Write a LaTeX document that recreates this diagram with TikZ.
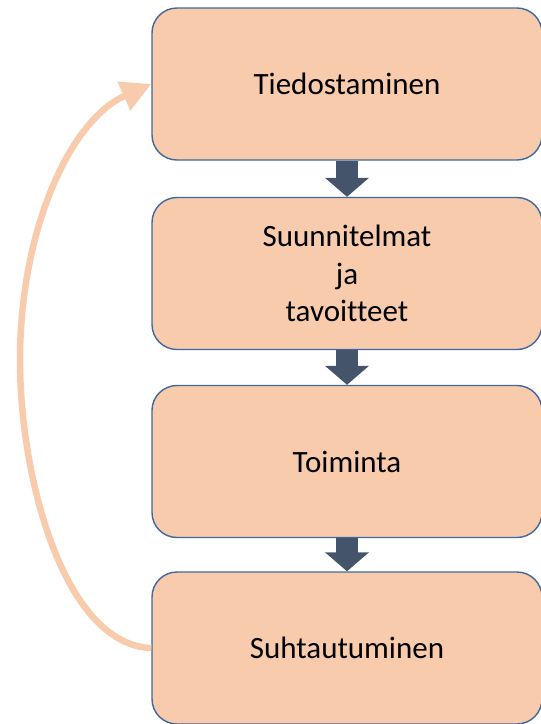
\documentclass[tikz,border=0pt]{standalone}
\usepackage{fontspec}
\setmainfont[Ligatures=NoCommon]{Carlito}
\usetikzlibrary{arrows.meta}
\definecolor{peach}{HTML}{F8CBAD}
\definecolor{boxline}{HTML}{41689E}
\definecolor{slate}{HTML}{44546A}

\begin{document}
\begin{tikzpicture}[x=1pt, y=-1pt,
  every node/.style={font=\fontsize{31}{37.5}\selectfont},
  phase/.style={draw=boxline, line width=1.4pt, fill=peach, rounded corners=25pt,
    minimum width=390pt, minimum height=152pt, align=center, inner sep=0pt},
  down/.style={slate, line width=22pt, -{Triangle[width=43pt, length=19pt]}}]
  \clip (0,0) rectangle (541,724);
  \node[phase] (tied) at (347,84) {Tiedostaminen};
  \node[phase] (suun) at (347,273.5) {Suunnitelmat\\ja\\tavoitteet};
  \node[phase] (toim) at (347,461.5) {Toiminta};
  \node[phase] (suht) at (347,648) {Suhtautuminen};
  \draw[down] (tied) -- (suun);
  \draw[down] (suun) -- (toim);
  \draw[down] (toim) -- (suht);
  \draw[peach, line width=6.5pt, -{Triangle[width=30pt, length=30pt]}]
    (suht.west) .. controls (65,645) and (20,480) .. (20,360)
    .. controls (20,230) and (70,120) .. (tied.west);
\end{tikzpicture}
\end{document}
